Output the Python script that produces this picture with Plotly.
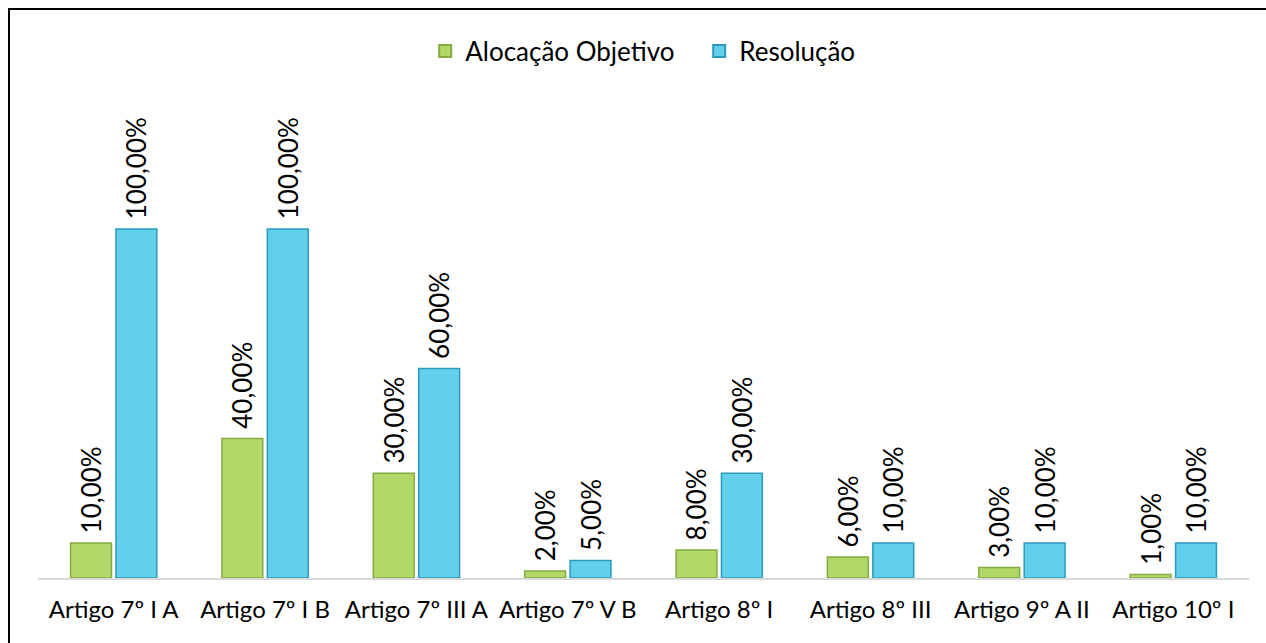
import plotly.graph_objects as go

# Categories and series values (fractions)
categorias = ["Artigo 7º I A", "Artigo 7º I B", "Artigo 7º III A", "Artigo 7º V B",
              "Artigo 8º I", "Artigo 8º III", "Artigo 9º A II", "Artigo 10º I"]
alocacao_objetivo = [0.10, 0.40, 0.30, 0.02, 0.08, 0.06, 0.03, 0.01]
resolucao = [1.00, 1.00, 0.60, 0.05, 0.30, 0.10, 0.10, 0.10]

FONT = "Lato, Calibri, Carlito, sans-serif"
LABEL_SIZE = 26

fig = go.Figure()
fig.add_trace(go.Bar(
    x=categorias, y=alocacao_objetivo, name="Alocação Objetivo",
    marker=dict(color="#B2D86A", line=dict(color="#84AA40", width=1.5)),
    texttemplate=" %{y:.2%}", textposition="outside", textangle=-90,
    constraintext="none",
    textfont=dict(size=LABEL_SIZE, color="#000000"), cliponaxis=False,
))
fig.add_trace(go.Bar(
    x=categorias, y=resolucao, name="Resolução",
    marker=dict(color="#62CFEB", line=dict(color="#2C9BBB", width=1.5)),
    texttemplate=" %{y:.2%}", textposition="outside", textangle=-90,
    constraintext="none",
    textfont=dict(size=LABEL_SIZE, color="#000000"), cliponaxis=False,
))

fig.update_layout(
    width=1266, height=643,
    margin=dict(l=38, r=17, t=60, b=65, autoexpand=False),
    paper_bgcolor="#FFFFFF", plot_bgcolor="#FFFFFF",
    separators=",.",
    font=dict(family=FONT, size=24, color="#000000"),
    barmode="group", bargap=0.4, bargroupgap=0.1,
    uniformtext=dict(mode=False),
    showlegend=True,
    legend=dict(orientation="h", x=0.546, xanchor="center",
                y=(643 - 51) / 643, yanchor="middle",
                yref="container", font=dict(size=26), itemsizing="constant",
                entrywidth=229, entrywidthmode="pixels",
                traceorder="normal", bgcolor="rgba(0,0,0,0)"),
    xaxis=dict(showline=True, linecolor="#D9D9D9", linewidth=2, ticks="outside",
               ticklen=9, tickcolor="rgba(0,0,0,0)", tickfont=dict(size=24),
               showgrid=False, zeroline=False),
    yaxis=dict(range=[0, 1.484], visible=False, showgrid=False, zeroline=False),
    shapes=[dict(type="rect", xref="paper", yref="paper",
                 x0=-29 / 1211, x1=1.05, y0=-0.2, y1=(578 - 9) / 518,
                 line=dict(color="#000000", width=2), fillcolor="rgba(0,0,0,0)",
                 layer="above")],
)

fig.write_html("out.html")
